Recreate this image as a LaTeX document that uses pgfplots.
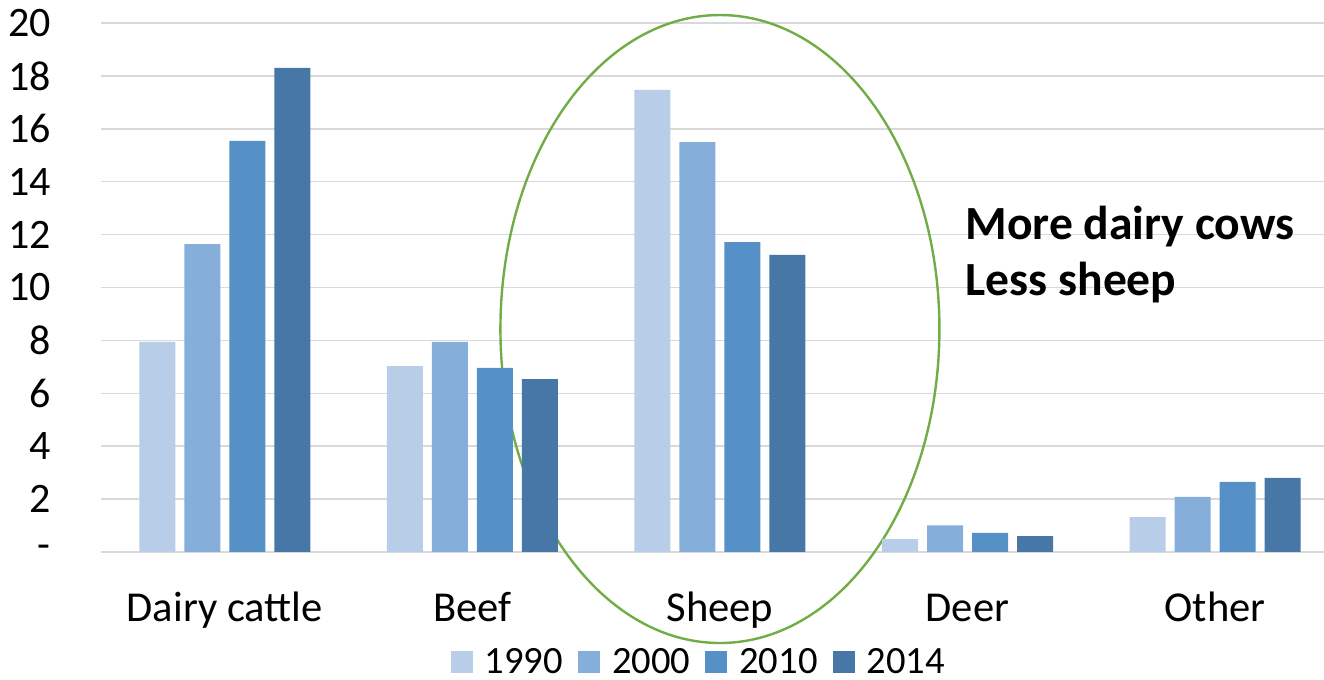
\documentclass[border=0pt]{standalone}
\usepackage{fontspec}
\setmainfont{Carlito}
\usepackage{pgfplots}
\pgfplotsset{compat=1.18}
\definecolor{c1990}{HTML}{B7CDE8}
\definecolor{c2000}{HTML}{85AEDB}
\definecolor{c2010}{HTML}{5591C7}
\definecolor{c2014}{HTML}{4677A6}
\definecolor{gridgray}{HTML}{D9D9D9}
\definecolor{ringgreen}{HTML}{70AD47}
\begin{document}
\begin{tikzpicture}
\begin{axis}[
    set layers=standard,
    scale only axis,
    width=611.5pt, height=264.5pt,
    ybar=4.5pt, bar width=18pt,
    xmin=-0.5, xmax=4.44, ymin=0, ymax=20,
    xtick={0,...,4},
    xticklabels={Dairy cattle,Beef,Sheep,Deer,Other},
    ytick={0,2,...,20},
    yticklabels={{-\hspace{8pt}},2,4,6,8,10,12,14,16,18,20},
    axis line style={draw=none},
    major tick length=0pt,
    ymajorgrids,
    major grid style={color=gridgray, line width=0.75pt},
    /pgf/number format/assume math mode=true,
    tick label style={font=\fontsize{21}{25}\selectfont, inner sep=0pt},
    xticklabel style={anchor=base, yshift=-35pt, font=\fontsize{21.3}{25}\selectfont},
    yticklabel style={anchor=east, xshift=-25pt},
    clip=false,
    legend columns=4,
    legend style={at={(axis description cs:0.488,-0.208)}, anchor=center,
        draw=none, inner sep=0pt, font=\fontsize{19.3}{22}\selectfont,
        nodes={inner sep=0pt},
        /tikz/every odd column/.append style={column sep=6pt},
        /tikz/every even column/.append style={column sep=7.5pt}},
    every axis plot post/.append style={
        legend image code/.code={\fill[##1] (0pt,-5.5pt) rectangle (11pt,5.5pt);}},
]
\addplot[fill=c1990, draw=none] coordinates {(0,7.94) (1,7.03) (2,17.47) (3,0.49) (4,1.32)};
\addplot[fill=c2000, draw=none] coordinates {(0,11.64) (1,7.94) (2,15.5) (3,1.01) (4,2.08)};
\addplot[fill=c2010, draw=none] coordinates {(0,15.54) (1,6.96) (2,11.72) (3,0.72) (4,2.65)};
\addplot[fill=c2014, draw=none] coordinates {(0,18.3) (1,6.54) (2,11.23) (3,0.6) (4,2.8)};
\legend{1990,2000,2010,2014}
\begin{pgfonlayer}{pre main}
\draw[ringgreen, line width=1.2pt] (axis cs:2,8.43) ellipse [x radius=109.75pt, y radius=157pt];
\end{pgfonlayer}
\node[anchor=base west, inner sep=0pt, font=\bfseries\fontsize{23.8}{28}\selectfont] at (axis cs:2.991,11.83) {More dairy cows};
\node[anchor=base west, inner sep=0pt, font=\bfseries\fontsize{23.8}{28}\selectfont] at (axis cs:2.991,9.68) {Less sheep};
\end{axis}
\pgfresetboundingbox
\path (-50.5pt,-64pt) rectangle (611.5pt,276pt);
\end{tikzpicture}
\end{document}
